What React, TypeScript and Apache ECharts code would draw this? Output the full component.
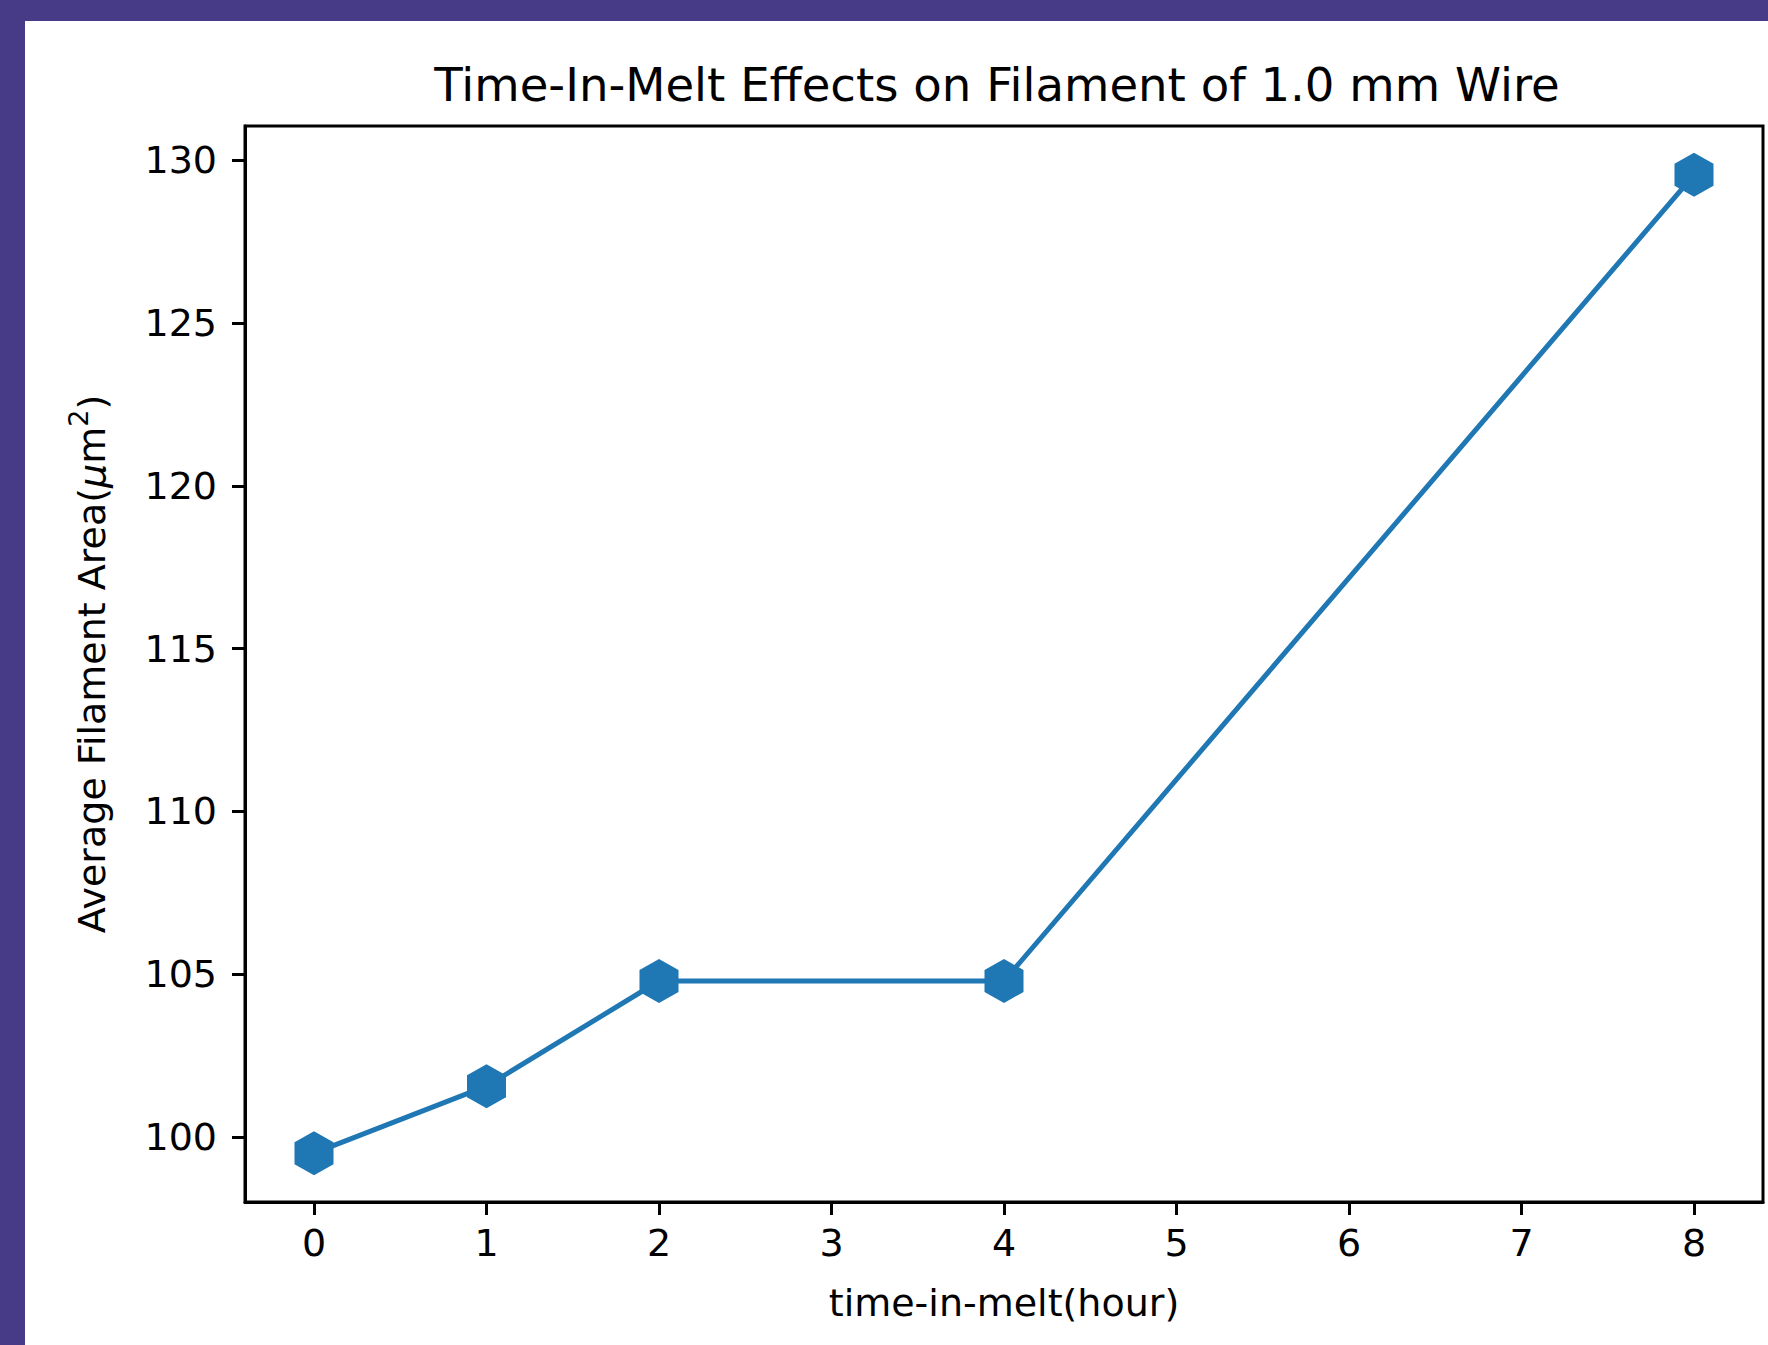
import React, { useEffect, useRef } from "react";
import * as echarts from "echarts";

const hours = [0, 1, 2, 4, 8];
const avgArea = [99.5, 101.56, 104.79, 104.79, 129.56];
const xTicks = [0, 1, 2, 3, 4, 5, 6, 7, 8];
const yTicks = [100, 105, 110, 115, 120, 125, 130];

const FONT = "DejaVu Sans";
const HEX = "path://M0,-1 L0.866,-0.5 L0.866,0.5 L0,1 L-0.866,0.5 L-0.866,-0.5 Z";

export default function App() {
  const ref = useRef<HTMLDivElement>(null);
  useEffect(() => {
    document.body.style.margin = "0";
    const chart = echarts.init(ref.current!, null, { renderer: "svg" });
    const axisCommon = {
      axisLine: { show: true, onZero: false, lineStyle: { color: "#000", width: 3 } },
      splitLine: { show: false },
    };
    chart.setOption({
      animation: false,
      backgroundColor: "#ffffff",
      title: {
        text: "Time-In-Melt Effects on Filament of 1.0 mm Wire",
        left: 992 - 25,
        textAlign: "center",
        top: 35,
        textStyle: { fontFamily: FONT, fontSize: 46.6, fontWeight: "normal", color: "#000" },
      },
      grid: {
        left: 220,
        top: 105,
        width: 1518,
        height: 1076,
        show: true,
        borderColor: "#000",
        borderWidth: 3,
        backgroundColor: "transparent",
      },
      xAxis: {
        type: "value",
        min: -0.4,
        max: 8.4,
        ...axisCommon,
        name: "time-in-melt(hour)",
        nameLocation: "middle",
        nameGap: 82,
        nameTextStyle: { fontFamily: FONT, fontSize: 38, color: "#000" },
        axisTick: { show: true, length: 13, lineStyle: { color: "#000", width: 3 }, customValues: xTicks },
        axisLabel: {
          customValues: xTicks,
          margin: 22,
          fontFamily: FONT,
          fontSize: 38,
          color: "#000",
        },
      },
      yAxis: {
        type: "value",
        min: 98.0,
        max: 131.06,
        ...axisCommon,
        name: "{a|Average Filament Area(}{i|μ}{a|m}{s|2}{a|)}",
        nameLocation: "middle",
        nameRotate: 90,
        nameGap: 134,
        nameTextStyle: {
          fontFamily: FONT,
          fontSize: 38,
          color: "#000",
          rich: {
            a: { fontFamily: FONT, fontSize: 38, color: "#000", verticalAlign: "bottom", lineHeight: 46 },
            i: { fontFamily: FONT, fontSize: 38, fontStyle: "italic", color: "#000", verticalAlign: "bottom", lineHeight: 46 },
            s: { fontFamily: FONT, fontSize: 27, color: "#000", verticalAlign: "top", lineHeight: 46 },
          },
        },
        axisTick: { show: true, length: 13, lineStyle: { color: "#000", width: 3 }, customValues: yTicks },
        axisLabel: {
          customValues: yTicks,
          margin: 28,
          fontFamily: FONT,
          fontSize: 38,
          color: "#000",
        },
      },
      series: [
        {
          type: "line",
          data: hours.map((h, i) => [h, avgArea[i]]),
          symbol: HEX,
          symbolSize: [39, 44],
          showAllSymbol: true,
          clip: false,
          itemStyle: { color: "#1f77b4" },
          lineStyle: { color: "#1f77b4", width: 5 },
        },
      ],
    });
    return () => chart.dispose();
  }, []);
  return (
    <div style={{ position: "relative", width: 1768, height: 1345, background: "#473b87", overflow: "hidden" }}>
      <div
        ref={ref}
        style={{ position: "absolute", left: 25, top: 21, width: 1743, height: 1324, background: "#ffffff" }}
      />
    </div>
  );
}
